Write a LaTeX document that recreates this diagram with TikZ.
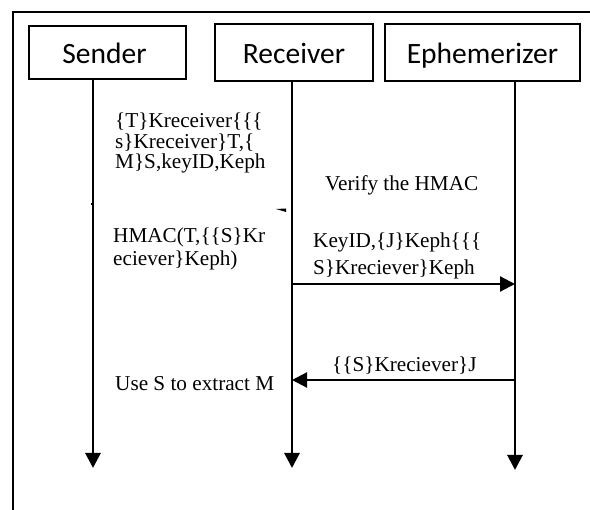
\documentclass[tikz,border=0pt]{standalone}
\usepackage{fontspec}
\setmainfont{Liberation Serif}
\newfontfamily\boxfont{Carlito}
\usetikzlibrary{arrows.meta}
\tikzset{
  actor/.style={draw, line width=1.6pt, inner sep=0pt, text height=23pt, text depth=0pt, font=\boxfont\fontsize{29.5}{31}\selectfont},
  lifeline/.style={line width=2.8pt, -{Triangle[width=15pt,length=15pt]}},
  msg/.style={line width=2.2pt, -{Triangle[width=15pt,length=15pt]}},
  lbl/.style={anchor=base west, inner sep=0pt, font=\fontsize{21.2}{23}\selectfont},
  frameline/.style={line width=1.3pt}
}
\begin{document}
\begin{tikzpicture}[x=1pt,y=-1pt]
\useasboundingbox (0,0) rectangle (590,510);
% outer frame (only left and top visible)
\draw[frameline] (13,510) -- (13,12) -- (590,12);
% actors
\node[actor, minimum width=157pt, minimum height=53pt] (sender) at (107.5,52.5) {\hspace*{-6pt}Sender};
\node[actor, minimum width=158pt, minimum height=57pt] (receiver) at (294,52.5) {Receiver};
\node[actor, minimum width=195pt, minimum height=57pt] (eph) at (482.5,52.5) {Ephemerizer};
% lifeline coordinates
\coordinate (s0) at (93,79);
\coordinate (s1) at (93,468);
\coordinate (r0) at (292,81);
\coordinate (r1) at (292,468);
\coordinate (e0) at (515,81);
\coordinate (e1) at (515,470);
\draw[lifeline] (s0) -- (s1);
\draw[lifeline] (r0) -- (r1);
\draw[lifeline] (e0) -- (e1);
% messages
\coordinate (m1a) at (292,284);
\coordinate (m1b) at (515,284);
\draw[msg] (m1a) -- (m1b);
\coordinate (m2a) at (515,380);
\coordinate (m2b) at (292,380);
\draw[msg] (m2a) -- (m2b);
% small stray marks
\fill (90.5,203) rectangle (93,205.5);
\fill (276,209) -- (286,208.5) -- (286,212) -- cycle;
% labels
\node[lbl] (t1) at (115,128) {\{T\}Kreceiver\{\{\{};
\node[lbl] (t2) at (115,148.5) {s\}Kreceiver\}T,\{};
\node[lbl] (t3) at (115,169) {M\}S,keyID,Keph};
\node[lbl] (h1) at (113,243) {HMAC(T,\{\{S\}Kr};
\node[lbl] (h2) at (113,266) {eciever\}Keph)};
\node[lbl] (v1) at (325,191) {Verify the HMAC};
\node[lbl] (k1) at (313,248) {KeyID,\{J\}Keph\{\{\{};
\node[lbl] (k2) at (313,275) {S\}Kreciever\}Keph};
\node[lbl] (j1) at (332,372) {\{\{S\}Kreciever\}J};
\node[lbl] (u1) at (115,391) {Use S to extract M};
\end{tikzpicture}
\end{document}
